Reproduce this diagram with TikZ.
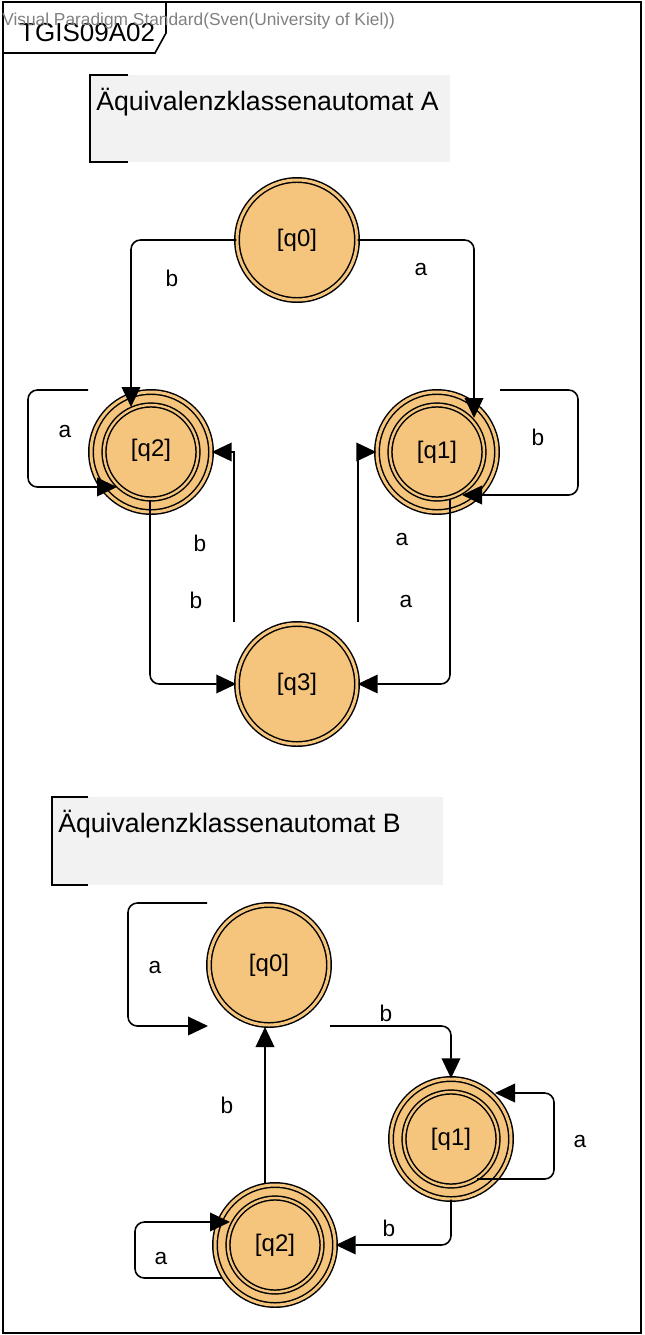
\documentclass[tikz,border=0pt]{standalone}
\usepackage{fontspec}
\setmainfont{Liberation Sans}
\usetikzlibrary{arrows.meta,calc}
\definecolor{statefill}{RGB}{245,197,125}
\definecolor{notefill}{RGB}{242,242,242}
\definecolor{markgray}{RGB}{128,128,128}

\begin{document}
\begin{tikzpicture}[x=0.75pt,y=-0.75pt,
  state/.style={circle,draw,line width=1.1pt,double=statefill,double distance=2.25pt,
    fill=statefill,minimum size=90pt,inner sep=0pt,font=\fontsize{18pt}{20pt}\selectfont},
  final/.style={state,path picture={\draw[line width=1.1pt,double=statefill,double distance=1.8pt]
    (path picture bounding box.center) circle (35.25pt);}},
  edge/.style={line width=1.2pt,rounded corners=7pt,-{Triangle[length=15pt,width=14pt]}},
  lbl/.style={font=\fontsize{17pt}{19pt}\selectfont},
  title/.style={anchor=base west,inner sep=0pt,font=\fontsize{20pt}{22pt}\selectfont}]

\useasboundingbox (0,0) rectangle (644,1335);

\draw[line width=1.5pt] (3,2) rectangle (641,1333);
\draw[line width=1.2pt] (166,2) -- (166,33) -- (155,53) -- (3,53);
\node[anchor=base west,inner sep=0pt,font=\fontsize{19.5pt}{22pt}\selectfont] (diagname) at (19,41) {TGIS09A02};
\node[anchor=base west,inner sep=0pt,text=markgray,font=\fontsize{13pt}{15pt}\selectfont] (vpmark) at (2,25) {Visual Paradigm Standard(Sven(University of Kiel))};


\fill[notefill] (90,75) rectangle (450,162);
\draw[line width=1.2pt] (128,75) -| (90,162) -- (128,162);
\node[title] (titleA) at (96,110) {Äquivalenzklassenautomat A};

\fill[notefill] (52,797) rectangle (443,885);
\draw[line width=1.2pt] (88,797) -| (52,885) -- (88,885);
\node[title] (titleB) at (58,832) {Äquivalenzklassenautomat B};


\node[state] (q0A) at (297,240) {[q0]};
\node[final] (q2A) at (151,452) {\raisebox{6pt}{[q2]}};
\node[final] (q1A) at (437,452) {[q1]};
\node[state] (q3A) at (297,684) {[q3]};

\node[state] (q0B) at (269,965) {[q0]};
\node[final] (q1B) at (451,1139) {[q1]};
\node[final] (q2B) at (275,1245) {[q2]};


\draw[edge] (q0A.west) -| ($(q2A)+(-20,-45)$);
\draw[edge] (q0A.east) -| ($(q1A)+(37,-34)$);
\draw[edge] ($(q2A)+(-63,-62)$) -- ++(-60,0) |- ($(q2A)+(-34,35)$);
\draw[edge] ($(q1A)+(63,-62)$) -- ++(78,0) |- ($(q1A)+(25,43)$);
\draw[edge] ($(q2A)+(-1,48)$) |- (q3A.west);
\draw[edge,sharp corners] ($(q3A)+(-63,-62)$) |- (q2A.east);
\draw[edge,sharp corners] ($(q3A)+(61,-62)$) |- (q1A.west);
\draw[edge] ($(q1A)+(13,48)$) |- (q3A.east);

\draw[edge] ($(q0B)+(-62,-62)$) -- ++(-79,0) |- ($(q0B)+(-61,61)$);
\draw[edge] ($(q0B)+(61,61)$) -| (q1B.north);
\draw[edge] ($(q1B)+(26,40)$) -- ++(77,0) |- ($(q1B)+(44,-46)$);
\draw[edge] (q1B.south) |- (q2B.east);
\draw[edge] ($(q2B)+(-10,-62)$) -- ($(q0B)+(-4,62)$);
\draw[edge] ($(q2B)+(-53,33)$) -- ++(-87,0) |- ($(q2B)+(-45,-23)$);


\node[lbl] (lA1) at (172,278) {b};
\node[lbl] (lA2) at (421,270) {a};
\node[lbl] (lA3) at (65,432) {a};
\node[lbl] (lA4) at (538,437) {b};
\node[lbl] (lA5) at (196,600) {b};
\node[lbl] (lA6) at (200,543) {b};
\node[lbl] (lA7) at (402,540) {a};
\node[lbl] (lA8) at (406,602) {a};

\node[lbl] (lB1) at (155,967) {a};
\node[lbl] (lB2) at (386,1013) {b};
\node[lbl] (lB3) at (580,1141) {a};
\node[lbl] (lB4) at (389,1228) {b};
\node[lbl] (lB5) at (227,1105) {b};
\node[lbl] (lB6) at (161,1258) {a};

\end{tikzpicture}
\end{document}
